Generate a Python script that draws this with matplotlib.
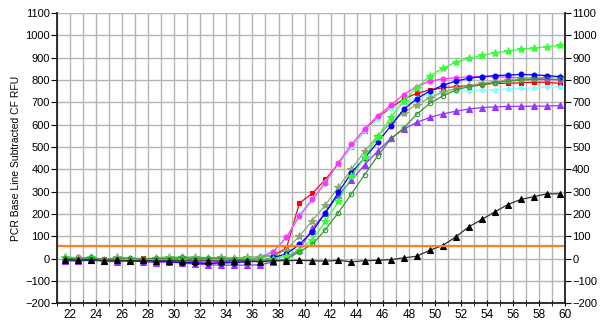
import numpy as np
import matplotlib
matplotlib.use('Agg')
import matplotlib.pyplot as plt

plt.rcParams['font.family'] = ['Liberation Sans', 'DejaVu Sans']

# cycle numbers (points sit a bit left of the cycle gridline in the original)
cycles = np.arange(22, 61)
x_shift = -0.4

threshold = 57

# baseline stretch, cycles 22..37 (16 points) + rise/plateau, cycles 38..60 (23 points)
red = [0, -5, 3, -4, 2, -3, 1, -2, 0, -4, -6, -5, -8, -4, 0, 5,
       15, 45, 248, 292, 355, 425, 500, 570, 630, 675, 715, 740, 755, 765,
       770, 775, 780, 785, 785, 788, 790, 790, 785]
magenta = [-5, 5, -3, -5, -8, -10, -6, -10, -12, -15, -18, -20, -18, -15, -8, 5,
           30, 95, 190, 265, 340, 430, 511, 580, 640, 686, 735, 770, 795, 805,
           810, 815, 815, 815, 812, 810, 808, 805, 800]
cyan = [-8, 0, -5, -8, -5, -10, -8, -12, -10, -15, -15, -18, -12, -10, 0, 10,
        35, 90, 200, 270, 345, 425, 500, 570, 625, 670, 700, 720, 735, 745,
        750, 752, 755, 757, 760, 762, 765, 768, 770]
violet = [-10, -12, -8, -12, -15, -10, -15, -18, -15, -20, -25, -28, -30, -30, -30, -28,
          -15, 0, 40, 135, 205, 285, 350, 420, 480, 538, 580, 610, 632, 648,
          660, 670, 676, 680, 682, 682, 683, 683, 686]
blue = [-5, -8, -5, -10, -8, -10, -12, -10, -15, -18, -20, -22, -20, -18, -15, -10,
        5, 20, 63, 121, 206, 296, 385, 450, 520, 593, 668, 716, 750, 776,
        795, 808, 815, 820, 822, 825, 823, 820, 815]
green = [5, 0, 8, -10, -5, 0, -5, 0, 3, -2, 0, -3, -5, -2, 0, -5,
         0, 10, 40, 85, 166, 256, 368, 453, 545, 632, 705, 765, 818, 852,
         880, 897, 910, 922, 930, 937, 943, 950, 955]
dkgreen = [2, -2, 5, -5, 0, 3, -2, 2, 0, 5, 0, 2, 0, -3, -5, -8,
           -8, -5, 31, 63, 130, 206, 290, 375, 459, 534, 585, 646, 695, 728,
           755, 770, 778, 788, 795, 800, 803, 803, 803]
olive = [8, 3, -3, -5, 5, 0, -5, 2, 8, 5, 8, 3, 5, 2, 5, 8,
         10, 40, 100, 170, 240, 320, 400, 480, 549, 608, 653, 690, 720, 745,
         762, 775, 785, 792, 798, 803, 808, 812, 815]
black = [-5, -8, -5, -10, -8, -10, -8, -12, -10, -10, -12, -10, -12, -10, -12, -15,
         -10, -10, -8, -10, -12, -8, -15, -10, -8, -5, 3, 10, 37, 58,
         97, 142, 175, 209, 242, 265, 277, 290, 290]

series = [
    (red, '#ff0000', 's', '#ff0000', 3),
    (cyan, '#80ffff', 'D', '#80ffff', 2.6),
    (magenta, '#ff33ff', 'o', '#ff33ff', 3.5),
    (violet, '#9933ff', '^', '#9933ff', 4),
    (olive, '#88aa70', '*', '#88aa70', 6),
    (blue, '#0000ff', 'o', '#0000ff', 3.5),
    (green, '#33ff33', '*', '#33ff33', 6),
    (dkgreen, '#339933', 'o', 'none', 3.2),
    (black, '#303030', '^', '#000000', 4),
]

fig = plt.figure(figsize=(6, 3.27), dpi=100)
ax = fig.add_axes([0.095, 0.073, 0.847, 0.887])

x = cycles + x_shift
for vals, col, mk, mfc, ms in series:
    ax.plot(x, vals, color=col, lw=0.9, marker=mk, ms=ms,
            mfc=mfc, mec=col if mfc != '#000000' else '#000000', mew=0.8)

ax.axhline(threshold, color='#ff7f27', lw=1.6)

ax.set_xlim(21, 60)
ax.set_ylim(-200, 1100)
ax.set_xticks(np.arange(22, 61, 2))
ax.set_xticks(np.arange(21, 61, 1), minor=True)
ax.set_yticks(np.arange(-200, 1101, 100))
ax.grid(True, which='both', axis='x', color='#b4b4b4', lw=1)
ax.grid(True, which='major', axis='y', color='#b4b4b4', lw=1)
ax.set_axisbelow(True)

ax.spines['top'].set_visible(False)
for s in ['left', 'right', 'bottom']:
    ax.spines[s].set_color('#202020')
    ax.spines[s].set_linewidth(1.3)

ax.tick_params(axis='y', which='both', direction='out', length=4,
               labelsize=8, left=True, right=True, labelleft=True,
               labelright=True, pad=1)
ax.tick_params(axis='x', which='both', direction='inout', length=4,
               labelsize=8.5, pad=2)

ax.set_ylabel('PCR Base Line Subtracted CF RFU', fontsize=7.5, labelpad=3)

fig.savefig('out.png', dpi=100)
